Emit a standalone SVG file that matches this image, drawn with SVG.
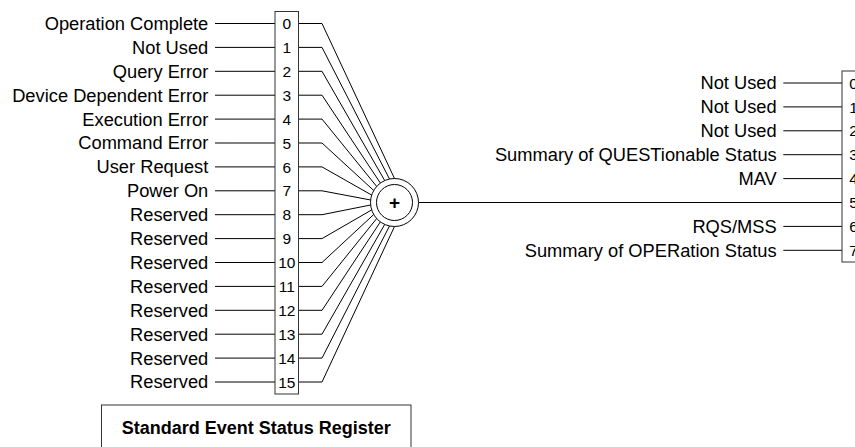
<svg xmlns="http://www.w3.org/2000/svg" width="855" height="447" viewBox="0 0 855 447">
<style>
.lbl{font-family:"Liberation Sans",Arial,sans-serif;font-size:18.3px;fill:#000;text-anchor:end}
.bit{font-family:"Liberation Sans",Arial,sans-serif;font-size:15.5px;fill:#000;text-anchor:middle}
.ttl{font-family:"Liberation Sans",Arial,sans-serif;font-size:18px;font-weight:bold;fill:#000;text-anchor:middle}
.box{fill:#fff;stroke:#333;stroke-width:1}
.ln{fill:none;stroke:#000;stroke-width:1}
</style>
<rect width="855" height="447" fill="#fff"/>
<g id="connectors" class="ln">
<path d="M215 23.5H275M298.5 23.5H322L394.5 178.5"/>
<path d="M215 47.4H275M298.5 47.4H322L389.51 179.03"/>
<path d="M215 71.3H275M298.5 71.3H322L384.74 180.58"/>
<path d="M215 95.2H275M298.5 95.2H322L380.39 183.08"/>
<path d="M215 119.1H275M298.5 119.1H322L376.67 186.44"/>
<path d="M215 143H275M298.5 143H322L373.72 190.5"/>
<path d="M215 166.9H275M298.5 166.9H322L371.67 195.08"/>
<path d="M215 190.8H275M298.5 190.8H322L370.63 199.99"/>
<path d="M215 214.7H275M298.5 214.7H322L370.63 205.01"/>
<path d="M215 238.6H275M298.5 238.6H322L371.67 209.92"/>
<path d="M215 262.5H275M298.5 262.5H322L373.72 214.5"/>
<path d="M215 286.4H275M298.5 286.4H322L376.67 218.56"/>
<path d="M215 310.3H275M298.5 310.3H322L380.39 221.92"/>
<path d="M215 334.2H275M298.5 334.2H322L384.74 224.42"/>
<path d="M215 358.1H275M298.5 358.1H322L389.51 225.97"/>
<path d="M215 382H275M298.5 382H322L394.5 226.5"/>
<path d="M418.5 202.5H842"/>
<path d="M783.3 83H842M783.3 106.9H842M783.3 130.8H842M783.3 154.7H842M783.3 178.6H842M783.3 226.4H842M783.3 250.3H842"/>
</g>
<g id="esr-labels">
<text class="lbl" x="208.3" y="29.9">Operation Complete</text>
<text class="lbl" x="208.3" y="53.8">Not Used</text>
<text class="lbl" x="208.3" y="77.7">Query Error</text>
<text class="lbl" x="208.3" y="101.6">Device Dependent Error</text>
<text class="lbl" x="208.3" y="125.5">Execution Error</text>
<text class="lbl" x="208.3" y="149.4">Command Error</text>
<text class="lbl" x="208.3" y="173.3">User Request</text>
<text class="lbl" x="208.3" y="197.2">Power On</text>
<text class="lbl" x="208.3" y="221.1">Reserved</text>
<text class="lbl" x="208.3" y="245">Reserved</text>
<text class="lbl" x="208.3" y="268.9">Reserved</text>
<text class="lbl" x="208.3" y="292.8">Reserved</text>
<text class="lbl" x="208.3" y="316.7">Reserved</text>
<text class="lbl" x="208.3" y="340.6">Reserved</text>
<text class="lbl" x="208.3" y="364.5">Reserved</text>
<text class="lbl" x="208.3" y="388.4">Reserved</text>
</g>
<g id="esr-register">
<rect class="box" x="275" y="11.5" width="23.5" height="382.5"/>
<text class="bit" x="286.8" y="29.1">0</text>
<text class="bit" x="286.8" y="53">1</text>
<text class="bit" x="286.8" y="76.9">2</text>
<text class="bit" x="286.8" y="100.8">3</text>
<text class="bit" x="286.8" y="124.7">4</text>
<text class="bit" x="286.8" y="148.6">5</text>
<text class="bit" x="286.8" y="172.5">6</text>
<text class="bit" x="286.8" y="196.4">7</text>
<text class="bit" x="286.8" y="220.3">8</text>
<text class="bit" x="286.8" y="244.2">9</text>
<text class="bit" x="286.8" y="268.1">10</text>
<text class="bit" x="286.8" y="292">11</text>
<text class="bit" x="286.8" y="315.9">12</text>
<text class="bit" x="286.8" y="339.8">13</text>
<text class="bit" x="286.8" y="363.7">14</text>
<text class="bit" x="286.8" y="387.6">15</text>
</g>
<g id="or-gate">
<circle cx="394.5" cy="202.5" r="24" fill="#fff" stroke="#000" stroke-width="1"/>
<circle cx="394.5" cy="202.5" r="18" fill="none" stroke="#000" stroke-width="1"/>
<text class="bit" x="394.5" y="209.2" style="font-size:19px;font-weight:bold">+</text>
</g>
<g id="stb-labels">
<text class="lbl" x="776.7" y="89.4">Not Used</text>
<text class="lbl" x="776.7" y="113.3">Not Used</text>
<text class="lbl" x="776.7" y="137.2">Not Used</text>
<text class="lbl" x="776.7" y="161.1">Summary of QUESTionable Status</text>
<text class="lbl" x="776.7" y="185">MAV</text>
<text class="lbl" x="776.7" y="232.8">RQS/MSS</text>
<text class="lbl" x="776.7" y="256.7">Summary of OPERation Status</text>
</g>
<g id="stb-register">
<rect class="box" x="842" y="71" width="23" height="191"/>
<text class="bit" x="853.5" y="88.6">0</text>
<text class="bit" x="853.5" y="112.5">1</text>
<text class="bit" x="853.5" y="136.4">2</text>
<text class="bit" x="853.5" y="160.3">3</text>
<text class="bit" x="853.5" y="184.2">4</text>
<text class="bit" x="853.5" y="208.1">5</text>
<text class="bit" x="853.5" y="232">6</text>
<text class="bit" x="853.5" y="255.9">7</text>
</g>
<g id="title">
<rect class="box" x="101.5" y="405" width="309.5" height="60"/>
<text class="ttl" x="256.3" y="434">Standard Event Status Register</text>
</g>
</svg>
